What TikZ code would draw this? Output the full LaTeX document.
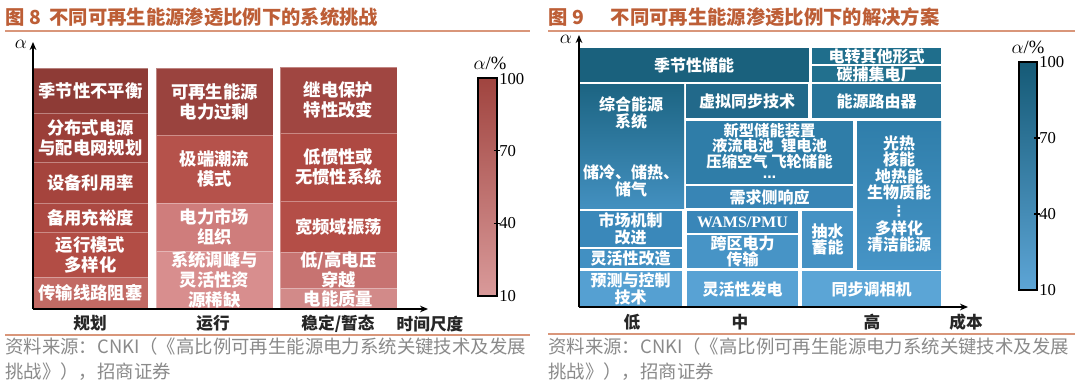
\documentclass[tikz,border=0pt]{standalone}
\usepackage{fontspec}
\setmainfont{Liberation Serif}
\newfontfamily\cjk{Noto Sans CJK SC}
\newfontfamily\dvs{DejaVu Sans}
\usetikzlibrary{arrows.meta}
% left palette
\definecolor{ttl}{HTML}{BD5E36}
\definecolor{ttlline}{HTML}{D9967A}
\definecolor{foot}{HTML}{8A8A8A}
\definecolor{La}{HTML}{8E3B36}
\definecolor{Lb}{HTML}{9B3F39}
\definecolor{Lc}{HTML}{A5443D}
\definecolor{Ld}{HTML}{AC4942}
\definecolor{Le}{HTML}{B24D45}
\definecolor{Lf}{HTML}{C26A64}
\definecolor{Ma}{HTML}{9A433E}
\definecolor{Mb}{HTML}{B5524B}
\definecolor{Mc}{HTML}{CF7D7C}
\definecolor{Md}{HTML}{D88E8E}
\definecolor{Ra}{HTML}{A04641}
\definecolor{Rb}{HTML}{AE4942}
\definecolor{Rc}{HTML}{B44E47}
\definecolor{Rd}{HTML}{C77371}
\definecolor{Re}{HTML}{D28A89}
\definecolor{barTopR}{HTML}{A0443F}
\definecolor{barBotR}{HTML}{D99A9A}
% right palette
\definecolor{Ba}{HTML}{1A617D}
\definecolor{Bb}{HTML}{1F6E8C}
\definecolor{Bc}{HTML}{22708E}
\definecolor{BdT}{HTML}{1C6482}
\definecolor{BdB}{HTML}{4390C0}
\definecolor{Be}{HTML}{22698A}
\definecolor{Bf}{HTML}{28759A}
\definecolor{Bg}{HTML}{2F7DA8}
\definecolor{Bh}{HTML}{3885B5}
\definecolor{BiT}{HTML}{2F7EAA}
\definecolor{BiB}{HTML}{4694C6}
\definecolor{Bj}{HTML}{3A88BA}
\definecolor{Bk}{HTML}{4290C2}
\definecolor{Bl}{HTML}{3986B8}
\definecolor{Bm}{HTML}{4794C6}
\definecolor{Bn}{HTML}{4592C4}
\definecolor{Bo}{HTML}{55A0D2}
\definecolor{Bp}{HTML}{58A2D4}
\definecolor{Bq}{HTML}{5BA5D6}
\definecolor{barTopB}{HTML}{155A76}
\definecolor{barBotB}{HTML}{5DA5D6}
\tikzset{
  bt/.style={text=white, font=\cjk\bfseries\fontsize{13}{15}\selectfont, align=center, inner sep=0pt},
  btr/.style={text=white, font=\cjk\bfseries\fontsize{12}{12.3}\selectfont, align=center, inner sep=0pt},
  ttlstyle/.style={text=ttl, font=\cjk\bfseries\fontsize{14.5}{16}\selectfont, inner sep=0pt, anchor=west},
  footstyle/.style={text=foot, font=\cjk\fontsize{13.8}{15}\selectfont, inner sep=0pt, anchor=west},
  axlab/.style={text=black!85, font=\cjk\bfseries\fontsize{12.5}{14}\selectfont, inner sep=0pt},
  axis/.style={line width=1.1pt, -{Stealth[length=6pt,width=5pt]}},
  num/.style={font=\fontsize{12.5}{14}\selectfont, inner sep=0pt, anchor=west},
  alab/.style={font=\fontsize{14}{16}\selectfont, inner sep=0pt},
  sep/.style={draw=white, draw opacity=0.35, line width=0.6pt}
}
\newcommand\blk[7]{\path[fill=#6,sep] (#2,#3) rectangle node[bt] (#1) {#7} (#4,#5);}
\newcommand\blkr[7]{\path[fill=#6] (#2,#3) rectangle node[btr] (#1) {#7} (#4,#5);}
\begin{document}
\begin{tikzpicture}[x=0.75pt,y=-0.75pt]
\useasboundingbox[fill=white] (0,0) rectangle (1080,385);
% ===== titles =====
\node[ttlstyle] (t8) at (5,17) {图 8\hspace{0.45em}不同可再生能源渗透比例下的系统挑战};
\draw[ttlline, line width=1.5pt] (5,31) -- (530,31);
\node[ttlstyle] (t9) at (548,17) {图 9\hspace{1.4em}不同可再生能源渗透比例下的解决方案};
\draw[ttlline, line width=1.5pt] (548,31) -- (1075,31);
% ===== left chart =====
\blk{L1}{33}{68}{148}{113}{La}{季节性不平衡}
\blk{L2}{33}{113}{148}{162}{Lb}{分布式电源\\与配电网规划}
\blk{L3}{33}{162}{148}{203}{Lc}{设备利用率}
\blk{L4}{33}{203}{148}{232}{Ld}{备用充裕度}
\blk{L5}{33}{232}{148}{277}{Le}{运行模式\\多样化}
\blk{L6}{33}{277}{148}{309}{Lf}{传输线路阻塞}
\blk{M1}{156}{68}{273}{135}{Ma}{可再生能源\\电力过剩}
\blk{M2}{156}{135}{273}{203}{Mb}{极端潮流\\模式}
\blk{M3}{156}{203}{273}{251}{Mc}{电力市场\\组织}
\blk{M4}{156}{251}{273}{309}{Md}{系统调峰与\\灵活性资\\源稀缺}
\blk{R1}{280}{67}{397}{133}{Ra}{继电保护\\特性改变}
\blk{R2}{280}{133}{397}{201}{Rb}{低惯性或\\无惯性系统}
\blk{R3}{280}{201}{397}{252}{Rc}{宽频域振荡}
\blk{R4}{280}{252}{397}{288}{Rd}{低/高电压\\穿越}
\blk{R5}{280}{288}{397}{309}{Re}{电能质量}
\coordinate (O8) at (33,309);
\coordinate (Y8) at (33,42);
\coordinate (X8) at (428,309);
\draw[axis] (O8) -- (Y8);
\draw[axis] (O8) -- (X8);
\node[alab] (a8) at (21,44) {$\alpha$};
\node[axlab] (x81) at (90,323) {规划};
\node[axlab] (x82) at (213,323) {运行};
\node[axlab] (x83) at (338,324) {稳定/暂态};
\node[axlab] (x84) at (430,324) {时间尺度};
% left colour bar
\path[top color=barTopR, bottom color=barBotR, draw=black, line width=1pt] (478,78) rectangle (497,296);
\node[alab] (u8) at (490,63) {$\alpha$/\%};
\draw[line width=0.8pt] (494,150.7) -- (500,150.7) (494,223.3) -- (500,223.3);
\node[num] (n81) at (499,79) {100};
\node[num] (n82) at (499,151) {70};
\node[num] (n83) at (499,223) {40};
\node[num] (n84) at (499,296) {10};
% left footer
\draw[ttlline, line width=1pt] (5,335) -- (530,335);
\node[footstyle] (f81) at (5,347) {资料来源：CNKI（《高比例可再生能源电力系统关键技术及发展};
\node[footstyle] (f82) at (5,372) {挑战》），招商证券};
% ===== right chart =====
\blkr{B1}{579}{48}{809}{82}{Ba}{季节性储能}
\blkr{B2}{812}{48}{941}{64}{Bb}{电转其他形式}
\blkr{B3}{812}{66}{941}{82}{Bc}{碳捕集电厂}
\path[top color=BdT, bottom color=BdB] (579,84) rectangle (684,208);
\node[btr] (B4a) at (631,113) {综合能源\\系统};
\node[btr] (B4b) at (631,181) {储冷、储热、\\储气};
\blkr{B5}{686}{84}{808}{118}{Be}{虚拟同步技术}
\blkr{B6}{812}{84}{941}{118}{Bf}{能源路由器}
\path[fill=Bg] (686,121) rectangle (853,184);
\node[btr, font=\cjk\bfseries\fontsize{11.5}{11.8}\selectfont] (B7) at (769.5,146) {新型储能装置\\液流电池\hspace{0.5em}锂电池\\压缩空气 飞轮储能};
\node[text=white, font=\dvs\bfseries\fontsize{10}{10}\selectfont, inner sep=0pt] (B7d) at (769.5,177.5) {…};
\blkr{B8}{686}{186}{853}{208}{Bh}{需求侧响应}
\path[top color=BiT, bottom color=BiB] (857,121) rectangle (941,269);
\node[btr] (B9) at (899,194) {光热\\核能\\地热能\\生物质能\\[1pt]{\dvs\fontsize{11}{12}\selectfont ⋮}\\[1pt]多样化\\清洁能源};
\blkr{B10}{579}{211}{682}{247}{Bj}{市场机制\\改进}
\blkr{B11}{579}{249}{682}{268}{Bk}{灵活性改造}
\blkr{B12}{687}{211}{798}{233}{Bl}{\fontspec{Liberation Serif}WAMS/PMU}
\blkr{B13}{687}{235}{798}{268}{Bm}{跨区电力\\传输}
\blkr{B14}{802}{211}{853}{268}{Bn}{抽水\\蓄能}
\blkr{B15}{579}{271}{682}{307}{Bo}{预测与控制\\技术}
\blkr{B16}{687}{271}{798}{307}{Bp}{灵活性发电}
\blkr{B17}{802}{271}{941}{307}{Bq}{同步调相机}
\coordinate (O9) at (579,307);
\coordinate (Y9) at (579,35);
\coordinate (X9) at (968,307);
\draw[axis] (O9) -- (Y9);
\draw[axis] (O9) -- (X9);
\node[alab] (a9) at (566,39) {$\alpha$};
\node[axlab] (x91) at (632,322) {低};
\node[axlab] (x92) at (740,322) {中};
\node[axlab] (x93) at (872,322) {高};
\node[axlab] (x94) at (966,322) {成本};
% right colour bar
\path[top color=barTopB, bottom color=barBotB, draw=black, line width=1pt] (1019,62) rectangle (1037,290);
\node[alab] (u9) at (1028,47) {$\alpha$/\%};
\draw[line width=0.8pt] (1034,138) -- (1040,138) (1034,214) -- (1040,214);
\node[num] (n91) at (1039,62) {100};
\node[num] (n92) at (1039,138) {70};
\node[num] (n93) at (1039,214) {40};
\node[num] (n94) at (1039,290) {10};
% right footer
\draw[ttlline, line width=1pt] (548,334) -- (1075,334);
\node[footstyle] (f91) at (548,347) {资料来源：CNKI（《高比例可再生能源电力系统关键技术及发展};
\node[footstyle] (f92) at (548,372) {挑战》），招商证券};
\end{tikzpicture}
\end{document}
